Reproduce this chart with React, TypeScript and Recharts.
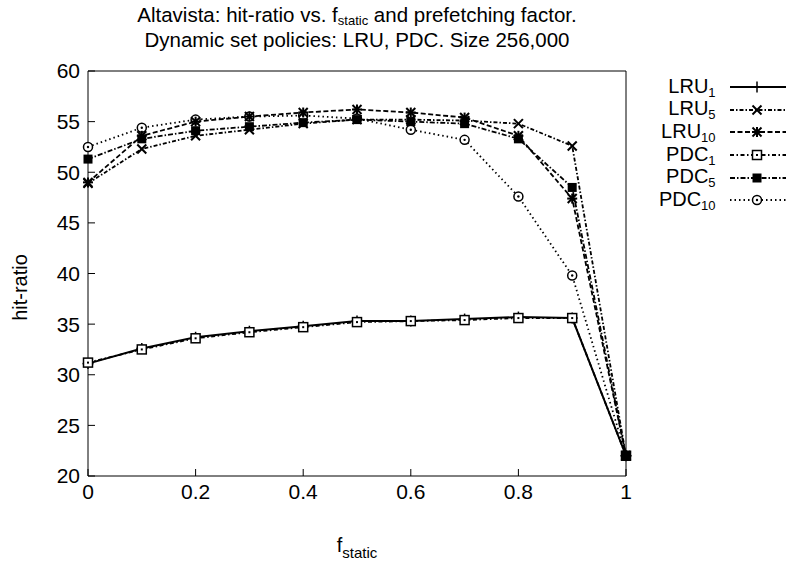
import React from 'react'
import { LineChart, Line, XAxis, YAxis, Label } from 'recharts'

// f_static values on the x axis
const fStatic = [0, 0.1, 0.2, 0.3, 0.4, 0.5, 0.6, 0.7, 0.8, 0.9, 1]

// hit-ratio per policy
const lru1 = [31.1, 32.6, 33.7, 34.3, 34.8, 35.3, 35.3, 35.5, 35.7, 35.6, 22.0]
const lru5 = [48.9, 52.3, 53.6, 54.2, 54.8, 55.2, 55.2, 55.1, 54.8, 52.6, 22.0]
const lru10 = [49.0, 53.6, 55.0, 55.5, 55.9, 56.2, 55.9, 55.4, 53.6, 47.4, 22.0]
const pdc1 = [31.2, 32.5, 33.6, 34.2, 34.7, 35.2, 35.3, 35.4, 35.6, 35.6, 22.0]
const pdc5 = [51.3, 53.3, 54.1, 54.5, 54.9, 55.2, 55.0, 54.8, 53.3, 48.5, 22.0]
const pdc10 = [52.5, 54.4, 55.2, 55.5, 55.6, 55.3, 54.2, 53.2, 47.6, 39.8, 22.0]

const xTicks = [0, 0.2, 0.4, 0.6, 0.8, 1]
const yTicks = [20, 25, 30, 35, 40, 45, 50, 55, 60]

const FONT = '"Liberation Sans", Arial, Helvetica, sans-serif'

type Marker = 'plus' | 'cross' | 'star' | 'squareDot' | 'square' | 'circleDot'

const series: Array<{ key: string; name: string; sub: string; dash?: string; marker: Marker }> = [
  { key: 'lru1', name: 'LRU', sub: '1', marker: 'plus' },
  { key: 'lru5', name: 'LRU', sub: '5', dash: '4 2 1.5 2', marker: 'cross' },
  { key: 'lru10', name: 'LRU', sub: '10', dash: '5 2.5', marker: 'star' },
  { key: 'pdc1', name: 'PDC', sub: '1', dash: '4 2.5 1.5 2.5', marker: 'squareDot' },
  { key: 'pdc5', name: 'PDC', sub: '5', dash: '5 2 1.5 2', marker: 'square' },
  { key: 'pdc10', name: 'PDC', sub: '10', dash: '1.5 3', marker: 'circleDot' },
]

// drawing order: the filled square ends up on top at f=1, as in the original
const drawOrder = ['lru1', 'pdc1', 'pdc10', 'lru5', 'lru10', 'pdc5']

const values: Record<string, number[]> = { lru1, lru5, lru10, pdc1, pdc5, pdc10 }

const data = fStatic.map((x, i) => {
  const row: Record<string, number> = { x }
  series.forEach(s => { row[s.key] = values[s.key][i] })
  return row
})

function marker(kind: Marker, cx: number, cy: number, key?: string | number) {
  const r = 4.5
  switch (kind) {
    case 'plus':
      return (
        <g key={key} stroke="#000" strokeWidth={1.5}>
          <line x1={cx - r - 1} y1={cy} x2={cx + r + 1} y2={cy} />
          <line x1={cx} y1={cy - r - 1} x2={cx} y2={cy + r + 1} />
        </g>
      )
    case 'cross':
      return (
        <g key={key} stroke="#000" strokeWidth={2}>
          <line x1={cx - r} y1={cy - r} x2={cx + r} y2={cy + r} />
          <line x1={cx - r} y1={cy + r} x2={cx + r} y2={cy - r} />
        </g>
      )
    case 'star':
      return (
        <g key={key} stroke="#000" strokeWidth={2}>
          <line x1={cx - r} y1={cy - r} x2={cx + r} y2={cy + r} />
          <line x1={cx - r} y1={cy + r} x2={cx + r} y2={cy - r} />
          <line x1={cx - r - 0.5} y1={cy} x2={cx + r + 0.5} y2={cy} />
          <line x1={cx} y1={cy - r - 0.5} x2={cx} y2={cy + r + 0.5} />
        </g>
      )
    case 'squareDot':
      return (
        <g key={key}>
          <rect x={cx - r} y={cy - r} width={2 * r} height={2 * r} fill="#fff" stroke="#000" strokeWidth={1.5} />
          <rect x={cx - 1} y={cy - 1} width={2} height={2} fill="#000" />
        </g>
      )
    case 'square':
      return <rect key={key} x={cx - r} y={cy - r} width={2 * r} height={2 * r} fill="#000" />
    case 'circleDot':
      return (
        <g key={key}>
          <circle cx={cx} cy={cy} r={r} fill="#fff" stroke="#000" strokeWidth={1.5} />
          <circle cx={cx} cy={cy} r={1.2} fill="#000" />
        </g>
      )
  }
}

function Legend() {
  return (
    <div style={{ position: 'absolute', left: 626, top: 76, width: 160, fontFamily: FONT }}>
      {series.map(s => (
        <div key={s.key} style={{ display: 'flex', alignItems: 'center', height: 22.6 }}>
          <div style={{ width: 92, textAlign: 'right', fontSize: 20, lineHeight: '18px' }}>
            {s.name}
            <span style={{ fontSize: 13, position: 'relative', top: 4 }}>{s.sub}</span>
          </div>
          <svg width={60} height={20} style={{ marginLeft: 12 }}>
            <line x1={2} y1={10} x2={58} y2={10} stroke="#000" strokeWidth={2} strokeDasharray={s.dash} />
            {marker(s.marker, 29, 10)}
          </svg>
        </div>
      ))}
    </div>
  )
}

const tickStyle = { fontSize: 21, fill: '#000', fontFamily: FONT }

export default function App() {
  return (
    <div style={{ position: 'absolute', left: 0, top: 0, width: 786, height: 561, background: '#fff', fontFamily: FONT }}>
      <div style={{ position: 'absolute', left: 88, width: 538, top: 3, textAlign: 'center', fontSize: 20.5, lineHeight: '23px' }}>
        <div style={{ height: 25 }}>
          Altavista: hit-ratio vs. f<span style={{ fontSize: 13, position: 'relative', top: 3, lineHeight: '13px' }}>static</span> and prefetching factor.
        </div>
        <div>Dynamic set policies: LRU, PDC. Size 256,000</div>
      </div>
      <LineChart width={786} height={561} data={data} margin={{ top: 70, right: 159, bottom: 84, left: 87 }}>
        <XAxis
          dataKey="x"
          type="number"
          domain={[0, 1]}
          ticks={xTicks}
          height={1}
          tickSize={-7}
          tickMargin={15}
          tick={tickStyle}
          stroke="#000"
          tickFormatter={(v: number) => String(v)}
          interval={0}
        >
          <Label
            content={(p: any) => {
              const vb = p.viewBox
              return (
                <text x={vb.x + vb.width / 2} y={vb.y + 76} textAnchor="middle" fontFamily={FONT} fontSize={20} fill="#000">
                  f<tspan fontSize={15} dy={6}>static</tspan>
                </text>
              )
            }}
          />
        </XAxis>
        <XAxis xAxisId="top" orientation="top" type="number" dataKey="x" domain={[0, 1]} ticks={xTicks} height={1} tickSize={-7} tick={false} stroke="#000" interval={0} />
        <YAxis
          type="number"
          domain={[20, 60]}
          ticks={yTicks}
          width={1}
          tickSize={-7}
          tickMargin={15}
          tick={tickStyle}
          stroke="#000"
          interval={0}
        >
          <Label
            content={(p: any) => {
              const vb = p.viewBox
              const cx = 22
              const cy = vb.y + vb.height / 2 + 14
              return (
                <text x={cx} y={cy} transform={`rotate(-90 ${cx} ${cy})`} textAnchor="middle" dominantBaseline="middle" fontFamily={FONT} fontSize={20} fill="#000">
                  hit-ratio
                </text>
              )
            }}
          />
        </YAxis>
        <YAxis yAxisId="right" orientation="right" type="number" domain={[20, 60]} ticks={yTicks} width={1} tickSize={-7} tick={false} stroke="#000" interval={0} />
        {drawOrder.map(k => series.find(s => s.key === k)!).map(s => (
          <Line
            key={s.key}
            dataKey={s.key}
            stroke="#000"
            strokeWidth={s.key === 'lru1' ? 2 : 1.8}
            strokeDasharray={s.dash}
            isAnimationActive={false}
            dot={(p: any) => marker(s.marker, p.cx, p.cy, `${s.key}-${p.index}`) as any}
            activeDot={false}
          />
        ))}
      </LineChart>
      <Legend />
    </div>
  )
}
